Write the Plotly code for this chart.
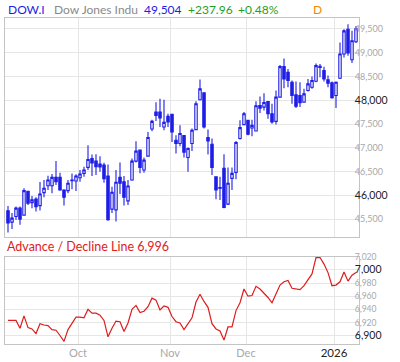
import plotly.graph_objects as go

# ---------------- data ----------------
dates = [
    "2025-09-05", "2025-09-08", "2025-09-09", "2025-09-10", "2025-09-11", "2025-09-12",
    "2025-09-15", "2025-09-16", "2025-09-17", "2025-09-18", "2025-09-19",
    "2025-09-22", "2025-09-23", "2025-09-24", "2025-09-25", "2025-09-26",
    "2025-09-29", "2025-09-30", "2025-10-01", "2025-10-02", "2025-10-03",
    "2025-10-06", "2025-10-07", "2025-10-08", "2025-10-09", "2025-10-10",
    "2025-10-13", "2025-10-14", "2025-10-15", "2025-10-16", "2025-10-17",
    "2025-10-20", "2025-10-21", "2025-10-22", "2025-10-23", "2025-10-24",
    "2025-10-27", "2025-10-28", "2025-10-29", "2025-10-30", "2025-10-31",
    "2025-11-03", "2025-11-04", "2025-11-05", "2025-11-06", "2025-11-07",
    "2025-11-10", "2025-11-11", "2025-11-12", "2025-11-13", "2025-11-14",
    "2025-11-17", "2025-11-18", "2025-11-19", "2025-11-20", "2025-11-21",
    "2025-11-24", "2025-11-25", "2025-11-26", "2025-11-28",
    "2025-12-01", "2025-12-02", "2025-12-03", "2025-12-04", "2025-12-05",
    "2025-12-08", "2025-12-09", "2025-12-10", "2025-12-11", "2025-12-12",
    "2025-12-15", "2025-12-16", "2025-12-17", "2025-12-18", "2025-12-19",
    "2025-12-22", "2025-12-23", "2025-12-24", "2025-12-26",
    "2025-12-29", "2025-12-30", "2025-12-31",
    "2026-01-02", "2026-01-05", "2026-01-06", "2026-01-07", "2026-01-08", "2026-01-09",
]

opens = [
    45678, 45441, 45559, 45734, 45588, 46089, 45851, 45928, 45788, 46060,
    46206, 46206, 46382, 46382, 46117, 46102, 46311, 46305, 46374, 46466,
    46591, 46779, 46723, 46660, 46639, 46409, 45713, 45699, 46382, 46290,
    45887, 46326, 46723, 46953, 46535, 46827, 47398, 47753, 47753, 47440,
    47663, 47705, 47162, 47093, 47260, 46800, 47093, 47385, 48012, 48158,
    47218, 47078, 46395, 46165, 46570, 45818, 46361, 46486, 47197, 47490,
    47580, 47419, 47356, 47893, 47858, 47977, 47720, 47559, 48067, 48708,
    48589, 48380, 48117, 48102, 47962, 48207, 48276, 48401, 48694, 48625,
    48430, 48367, 48102, 48464, 48973, 49496, 48854, 49231,
]
highs = [
    45782, 45630, 45768, 45768, 46152, 46100, 45991, 45964, 46284, 46326,
    46415, 46451, 46723, 46478, 46130, 46326, 46465, 46445, 46535, 46603,
    47057, 46863, 46869, 46827, 46687, 46654, 46186, 46535, 46695, 46409,
    46326, 46779, 47141, 46967, 46800, 47335, 47594, 47962, 48033, 48012,
    47719, 47720, 47266, 47475, 47270, 47009, 47406, 47983, 48436, 48171,
    47385, 47197, 46405, 46395, 46869, 46591, 46591, 47147, 47580, 47753,
    47594, 47594, 47983, 48081, 48150, 47985, 47929, 48207, 48744, 48882,
    48660, 48416, 48395, 48380, 48242, 48451, 48499, 48777, 48765, 48708,
    48520, 48395, 48395, 49216, 49496, 49600, 49461, 49565,
]
lows = [
    45224, 45295, 45490, 45385, 45573, 45803, 45734, 45663, 45684, 45964,
    46117, 46048, 46221, 46102, 45788, 46048, 46131, 46096, 46290, 46395,
    46535, 46409, 46430, 46499, 46269, 45469, 45630, 45454, 46033, 45788,
    45803, 46311, 46695, 46466, 46478, 46813, 47350, 47565, 47440, 47371,
    47440, 47126, 46884, 47036, 46800, 46499, 46938, 47371, 47997, 47406,
    46863, 46430, 45922, 45908, 45734, 45803, 46117, 46340, 47176, 47475,
    47266, 47245, 47343, 47732, 47789, 47615, 47510, 47490, 48054, 48255,
    48276, 47929, 47837, 47858, 47949, 48186, 48242, 48380, 48485, 48395,
    48276, 48033, 47837, 48451, 48902, 48938, 48785, 49203,
]
closes = [
    45421, 45525, 45734, 45504, 46102, 45839, 45908, 45767, 46033, 46152,
    46326, 46382, 46290, 46117, 45964, 46257, 46326, 46409, 46451, 46535,
    46758, 46687, 46604, 46600, 46353, 45490, 46068, 46278, 46257, 45964,
    46200, 46723, 46932, 46591, 46744, 47218, 47559, 47684, 47628, 47538,
    47544, 47335, 47093, 47302, 46911, 46988, 47371, 47929, 48242, 47440,
    47147, 46591, 46117, 46152, 45747, 46257, 46466, 47113, 47427, 47719,
    47287, 47475, 47887, 47837, 47956, 47720, 47544, 48067, 48708, 48451,
    48416, 48102, 47878, 47949, 48137, 48346, 48416, 48729, 48715, 48451,
    48359, 48054, 48380, 48973, 49461, 48994, 49252, 49504,
]
ad_line = [
    6923, 6923, 6923, 6911, 6930, 6912, 6910, 6903, 6918, 6916,
    6915, 6909, 6908, 6900, 6891, 6909, 6918, 6928, 6928, 6927,
    6940, 6934, 6934, 6931, 6923, 6898, 6911, 6922, 6921, 6906,
    6919, 6940, 6946, 6935, 6937, 6944, 6957, 6954, 6939, 6945,
    6943, 6929, 6921, 6919, 6909, 6918, 6927, 6951, 6963, 6952,
    6943, 6918, 6910, 6907, 6893, 6913, 6913, 6938, 6950, 6971,
    6960, 6961, 6975, 6971, 6965, 6958, 6950, 6964, 6977, 6982,
    6984, 6972, 6971, 6970, 6976, 6985, 6994, 7019, 7019, 7009,
    6996, 6976, 6977, 6982, 6997, 6983, 6992, 6996,
]

month_starts = ["2025-10-01", "2025-11-03", "2025-12-01", "2026-01-02"]
month_labels = ["Oct", "Nov", "Dec", "2026"]
month_major = [False, False, False, True]

price_ticks = [45500, 46000, 46500, 47000, 47500, 48000, 48500, 49000, 49500]
price_labels = ["45,500", "46,000", "46,500", "47,000", "47,500", "48,000", "48,500", "49,000", "49,500"]
price_major = [False, True, False, False, False, True, False, False, False]

ad_ticks = [6900, 6920, 6940, 6960, 6980, 7000, 7020]
ad_labels = ["6,900", "6,920", "6,940", "6,960", "6,980", "7,000", "7,020"]
ad_major = [True, False, False, False, False, True, False]

header_texts = ["DOW.I", "Dow Jones Indu", "49,504", "+237.96", "+0.48%", "D"]
subtitle = "Advance / Decline Line 6,996"

# ---------------- styling ----------------
FONT = "Lato"
BLUE = "#1e1ee6"
RED = "#dd1c1c"
GRID = "#e6e6e6"
FRAME = "#c4c4c4"
GRAY_TXT = "#a8a8a8"
DARK_TXT = "#222222"

W, H = 400, 362
ML, MR, MT, MB = 5, 41, 18, 18
PW = W - ML - MR
PH = H - MT - MB


def px_x(px):
    return (px - ML) / PW


def px_y(py):
    return (H - MB - py) / PH


def styled(labels, major, small, big):
    out = []
    for lab, m in zip(labels, major):
        if m:
            out.append(f'<span style="font-size:{big}px;fill:{DARK_TXT}">{lab}</span>')
        else:
            out.append(f'<span style="font-size:{small}px;fill:{GRAY_TXT}">{lab}</span>')
    return out


x = list(range(len(dates)))
month_pos = [dates.index(d) - 0.5 for d in month_starts]
xrange_ = [-0.75, len(dates) - 0.25]

fig = go.Figure()
fig.add_trace(go.Candlestick(
    x=x, open=opens, high=highs, low=lows, close=closes,
    increasing=dict(line=dict(color=BLUE, width=1.1), fillcolor="white"),
    decreasing=dict(line=dict(color=BLUE, width=1.1), fillcolor=BLUE),
    whiskerwidth=0, hoverinfo="skip", xaxis="x", yaxis="y", showlegend=False,
))
fig.add_trace(go.Scatter(
    x=x, y=ad_line, mode="lines", line=dict(color=RED, width=1.2),
    hoverinfo="skip", xaxis="x2", yaxis="y2", showlegend=False,
))

common_x = dict(
    range=xrange_, tickvals=month_pos, showgrid=True, gridcolor=GRID, gridwidth=1,
    zeroline=False, showline=True, mirror=True, linecolor=FRAME, linewidth=1,
    ticks="", fixedrange=True, automargin=False,
)
fig.update_layout(
    width=W, height=H,
    margin=dict(l=ML, r=MR, t=MT, b=MB, pad=0, autoexpand=False),
    paper_bgcolor="white", plot_bgcolor="white",
    font=dict(family=FONT, size=11, color=GRAY_TXT),
    showlegend=False,
    boxgap=0.25, boxgroupgap=0.2,
    xaxis=dict(common_x, anchor="y", showticklabels=False,
               rangeslider=dict(visible=False)),
    xaxis2=dict(common_x, anchor="y2", showticklabels=True,
                ticktext=styled(month_labels, month_major, 11, 11.5),
                ticklabelstandoff=-1, ticklabeloverflow="allow",
                tickfont=dict(family=FONT, size=11, color=GRAY_TXT)),
    yaxis=dict(domain=[px_y(237), 1], range=[45128, 49731], side="right",
               tickvals=price_ticks, ticktext=styled(price_labels, price_major, 9, 10.5),
               showgrid=True, gridcolor=GRID, zeroline=False, showline=True, mirror=True,
               linecolor=FRAME, linewidth=1, ticks="", anchor="x", fixedrange=True,
               automargin=False, ticklabelstandoff=-7, ticklabeloverflow="allow",
               tickfont=dict(family=FONT, size=9, color=GRAY_TXT)),
    yaxis2=dict(domain=[0, px_y(256.5)], range=[6887, 7020.6], side="right",
                tickvals=ad_ticks, ticktext=styled(ad_labels, ad_major, 8.5, 10.5),
                showgrid=True, gridcolor=GRID, zeroline=False, showline=True, mirror=True,
                linecolor=FRAME, linewidth=1, ticks="", anchor="x2", fixedrange=True,
                automargin=False, ticklabelstandoff=-7, ticklabeloverflow="allow",
                tickfont=dict(family=FONT, size=9, color=GRAY_TXT)),
)

header_px = [6, 52, 142, 186, 236, 311]
header_colors = [BLUE, "#8a8a8a", BLUE, "#1f9e1f", "#1f9e1f", "#f08a00"]
for txt, hx, col in zip(header_texts, header_px, header_colors):
    fig.add_annotation(text=txt, x=px_x(hx), y=px_y(10), xref="paper", yref="paper",
                       xanchor="left", yanchor="middle", showarrow=False,
                       font=dict(family=FONT, size=12, color=col))

fig.add_annotation(text=subtitle, x=px_x(5), y=px_y(247), xref="paper", yref="paper",
                   xanchor="left", yanchor="middle", showarrow=False,
                   font=dict(family=FONT, size=12.5, color=RED))

fig.write_html(
    "out.html",
    config={"displayModeBar": False, "staticPlot": True},
    post_script="document.body.style.margin='0';document.body.style.padding='0';",
)
